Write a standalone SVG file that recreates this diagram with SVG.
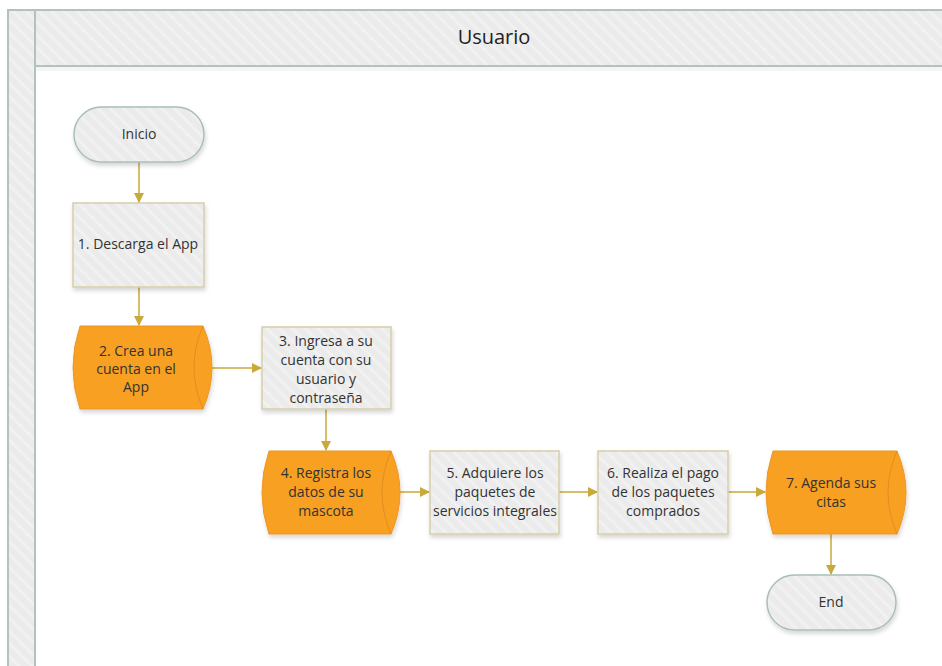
<svg xmlns="http://www.w3.org/2000/svg" width="942" height="666" viewBox="0 0 942 666">
  <defs>
    <pattern id="hatch" width="9" height="9" patternUnits="userSpaceOnUse" patternTransform="rotate(-45)">
      <rect width="9" height="9" fill="#ebebeb"/>
      <rect width="3" height="9" fill="#f1f1f1"/>
    </pattern>
    <filter id="shadow" x="-10%" y="-10%" width="125%" height="130%">
      <feDropShadow dx="1" dy="3" stdDeviation="2" flood-color="#000" flood-opacity="0.16"/>
    </filter>
    <marker id="arrow" viewBox="0 0 10 10" refX="9" refY="5" markerWidth="10" markerHeight="10" markerUnits="userSpaceOnUse" orient="auto">
      <path d="M0,0 L10,5 L0,10 Z" fill="#c9a93a"/>
    </marker>
  </defs>
  <style>
    .lbl { font-family: "Open Sans", "Noto Sans", "DejaVu Sans", sans-serif; font-size: 14px; fill: #333; text-anchor: middle; }
    .title { font-family: "Open Sans", "Noto Sans", "DejaVu Sans", sans-serif; font-size: 20px; fill: #222; text-anchor: middle; }
    .box { fill: url(#hatch); stroke: #d6ceaa; stroke-width: 1.5; filter: url(#shadow); }
    .pill { fill: url(#hatch); stroke: #a9bfb6; stroke-width: 1.5; filter: url(#shadow); }
    .store { fill: #f7a021; stroke: #eb9628; stroke-width: 1; filter: url(#shadow); }
    .inner { fill: none; stroke: #e08e1e; stroke-width: 1; }
    .conn { fill: none; stroke: #c9a93a; stroke-width: 1.5; marker-end: url(#arrow); }
  </style>

  <rect width="942" height="666" fill="#fff"/>

  <!-- swimlane -->
  <g id="lane">
    <rect x="8" y="10" width="27" height="660" fill="url(#hatch)" stroke="#b3c3bc" stroke-width="2"/>
    <rect x="35" y="10" width="910" height="56" fill="url(#hatch)" stroke="#b3c3bc" stroke-width="2"/>
    <rect x="36" y="67" width="906" height="4" fill="#000" opacity="0.04"/>
    <text class="title" x="494" y="44">Usuario</text>
  </g>

  <!-- connectors -->
  <g id="connectors">
    <line class="conn" x1="139" y1="162" x2="139" y2="202"/>
    <line class="conn" x1="139" y1="287" x2="139" y2="325"/>
    <line class="conn" x1="203" y1="368" x2="261" y2="368"/>
    <line class="conn" x1="326" y1="409" x2="326" y2="450"/>
    <line class="conn" x1="391" y1="492" x2="429" y2="492"/>
    <line class="conn" x1="559" y1="492" x2="597" y2="492"/>
    <line class="conn" x1="728" y1="492" x2="765" y2="492"/>
    <line class="conn" x1="831" y1="534" x2="831" y2="574"/>
  </g>

  <g id="inicio">
    <rect class="pill" x="74" y="107" width="130" height="55" rx="27.5"/>
    <text class="lbl" x="139" y="139">Inicio</text>
  </g>

  <g id="step1">
    <rect class="box" x="73" y="203" width="131" height="84"/>
    <text class="lbl" x="138" y="249">1. Descarga el App</text>
  </g>

  <g id="step2">
    <path class="store" d="M80,326 L203,326 Q221,367.5 203,409 L80,409 Q66,367.5 80,326 Z"/>
    <path class="inner" d="M203,326 Q185,367.5 203,409"/>
    <text class="lbl" x="136" y="356">2. Crea una</text>
    <text class="lbl" x="136" y="374">cuenta en el</text>
    <text class="lbl" x="136" y="392">App</text>
  </g>

  <g id="step3">
    <rect class="box" x="262" y="327" width="129" height="82"/>
    <text class="lbl" x="326" y="346">3. Ingresa a su</text>
    <text class="lbl" x="326" y="365">cuenta con su</text>
    <text class="lbl" x="326" y="384">usuario y</text>
    <text class="lbl" x="326" y="403">contraseña</text>
  </g>

  <g id="step4">
    <path class="store" d="M269,451 L391,451 Q409,492.5 391,534 L269,534 Q255,492.5 269,451 Z"/>
    <path class="inner" d="M391,451 Q373,492.5 391,534"/>
    <text class="lbl" x="326" y="478">4. Registra los</text>
    <text class="lbl" x="326" y="497">datos de su</text>
    <text class="lbl" x="326" y="516">mascota</text>
  </g>

  <g id="step5">
    <rect class="box" x="430" y="451" width="129" height="83"/>
    <text class="lbl" x="495" y="478">5. Adquiere los</text>
    <text class="lbl" x="495" y="497">paquetes de</text>
    <text class="lbl" x="495" y="516">servicios integrales</text>
  </g>

  <g id="step6">
    <rect class="box" x="598" y="451" width="130" height="83"/>
    <text class="lbl" x="663" y="478">6. Realiza el pago</text>
    <text class="lbl" x="663" y="497">de los paquetes</text>
    <text class="lbl" x="663" y="516">comprados</text>
  </g>

  <g id="step7">
    <path class="store" d="M773,451 L897,451 Q915,492.5 897,534 L773,534 Q759,492.5 773,451 Z"/>
    <path class="inner" d="M897,451 Q879,492.5 897,534"/>
    <text class="lbl" x="831" y="488">7. Agenda sus</text>
    <text class="lbl" x="831" y="507">citas</text>
  </g>

  <g id="end">
    <rect class="pill" x="767" y="575" width="129" height="55" rx="27.5"/>
    <text class="lbl" x="831" y="607">End</text>
  </g>
</svg>
